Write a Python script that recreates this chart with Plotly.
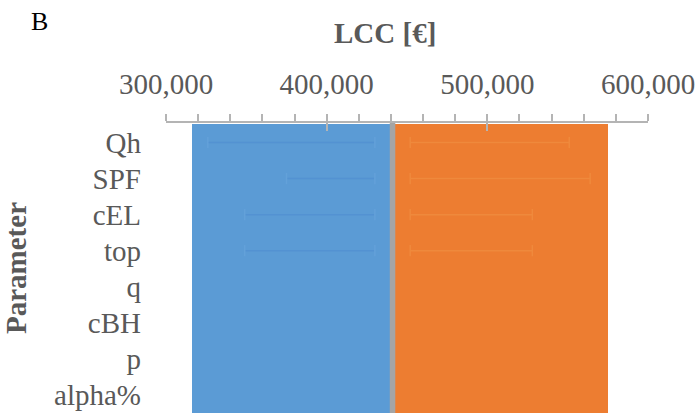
import plotly.graph_objects as go

# ---- data ----
params = ["Qh", "SPF", "cEL", "top", "q", "cBH", "p", "alpha%"]
base_lcc = 441000
low_lcc = [316000, 316000, 316000, 316000, 316000, 316000, 316000, 316000]
high_lcc = [575000, 575000, 575000, 575000, 575000, 575000, 575000, 575000]

# faint inner ranges visible in the first four rows
inner_params = ["Qh", "SPF", "cEL", "top"]
inner_low = [326000, 375000, 349000, 349000]
inner_low_end = [430000, 430000, 430000, 430000]
inner_high_start = [452000, 452000, 452000, 452000]
inner_high = [551000, 564000, 528000, 528000]

tick_vals = [300000, 400000, 500000, 600000]
tick_text = ["300,000", "400,000", "500,000", "600,000"]

BLUE = "#5B9BD5"
ORANGE = "#ED7D31"
GRAY_TXT = "#595959"
AXIS_GRAY = "#B4B4B4"
FONT = "Liberation Serif"

fig = go.Figure()

fig.add_trace(go.Bar(
    y=params, x=[l - base_lcc for l in low_lcc], base=base_lcc,
    orientation="h", marker=dict(color=BLUE, line=dict(width=0)),
    showlegend=False, hoverinfo="skip"))
fig.add_trace(go.Bar(
    y=params, x=[h - base_lcc for h in high_lcc], base=base_lcc,
    orientation="h", marker=dict(color=ORANGE, line=dict(width=0)),
    showlegend=False, hoverinfo="skip"))

# faint ghost lines
for yv, a, b in zip(inner_params, inner_low, inner_low_end):
    fig.add_trace(go.Scatter(
        x=[a, b], y=[yv, yv], mode="lines+markers",
        line=dict(color="#4E8CD0", width=1.5),
        marker=dict(symbol="line-ns", size=8, line=dict(color="#6AA6DE", width=1.5)),
        opacity=0.55, showlegend=False, hoverinfo="skip"))
for yv, a, b in zip(inner_params, inner_high_start, inner_high):
    fig.add_trace(go.Scatter(
        x=[a, b], y=[yv, yv], mode="lines+markers",
        line=dict(color="#F29446", width=1.5),
        marker=dict(symbol="line-ns", size=8, line=dict(color="#F29446", width=1.5)),
        opacity=0.55, showlegend=False, hoverinfo="skip"))

# vertical axis line at the base value
fig.add_shape(type="line", xref="x", yref="paper", x0=base_lcc, x1=base_lcc,
              y0=0, y1=1, line=dict(color="#A5A5A5", width=5.5), layer="above")

fig.update_layout(
    width=699, height=414,
    margin=dict(l=166, r=51, t=123, b=1),
    paper_bgcolor="white", plot_bgcolor="white",
    barmode="overlay", bargap=0,
    font=dict(family=FONT, color=GRAY_TXT),
    xaxis=dict(
        side="top", range=[300000, 600000], automargin=False,
        tickvals=tick_vals, ticktext=tick_text,
        tickfont=dict(size=29, color=GRAY_TXT, family=FONT),
        ticks="outside", ticklen=7, tickwidth=1.5, tickcolor=AXIS_GRAY,
        minor=dict(dtick=20000, ticks="outside", ticklen=7, tickwidth=1.5, tickcolor=AXIS_GRAY),
        ticklabelstandoff=9,
        showline=True, linecolor=AXIS_GRAY, linewidth=1.5,
        showgrid=False, zeroline=False,
    ),
    xaxis2=dict(
        overlaying="x", side="top", anchor="y", range=[300000, 600000], automargin=False,
        tickvals=tick_vals, showticklabels=False,
        ticks="inside", ticklen=8, tickwidth=1.5, tickcolor=AXIS_GRAY,
        showline=False, showgrid=False, zeroline=False,
    ),
    yaxis=dict(
        autorange="reversed", showline=False, showgrid=False, zeroline=False,
        automargin=False,
        ticks="", tickfont=dict(size=29, color=GRAY_TXT, family=FONT),
        ticklabelstandoff=24,
        title=dict(text="<b>Parameter</b>", font=dict(size=29, color=GRAY_TXT, family=FONT), standoff=22),
    ),
)

# dummy trace to activate xaxis2
fig.add_trace(go.Scatter(x=[None], y=[None], xaxis="x2", showlegend=False, hoverinfo="skip"))

# x-axis title (slightly left of plot centre, as in the reference)
fig.add_annotation(text="<b>LCC [€]</b>", xref="paper", yref="paper", x=0.454, y=1.0, yshift=90,
                   showarrow=False, xanchor="center", yanchor="middle",
                   font=dict(size=29, color=GRAY_TXT, family=FONT))

fig.add_annotation(text="B", xref="paper", yref="paper", x=-0.285, y=1.0, yshift=118,
                   showarrow=False, xanchor="left", yanchor="top",
                   font=dict(size=26, color="black", family=FONT))

fig.write_html("out.html", config={"displayModeBar": False},
               post_script="document.body.style.margin='0px';document.body.style.overflow='hidden';")
